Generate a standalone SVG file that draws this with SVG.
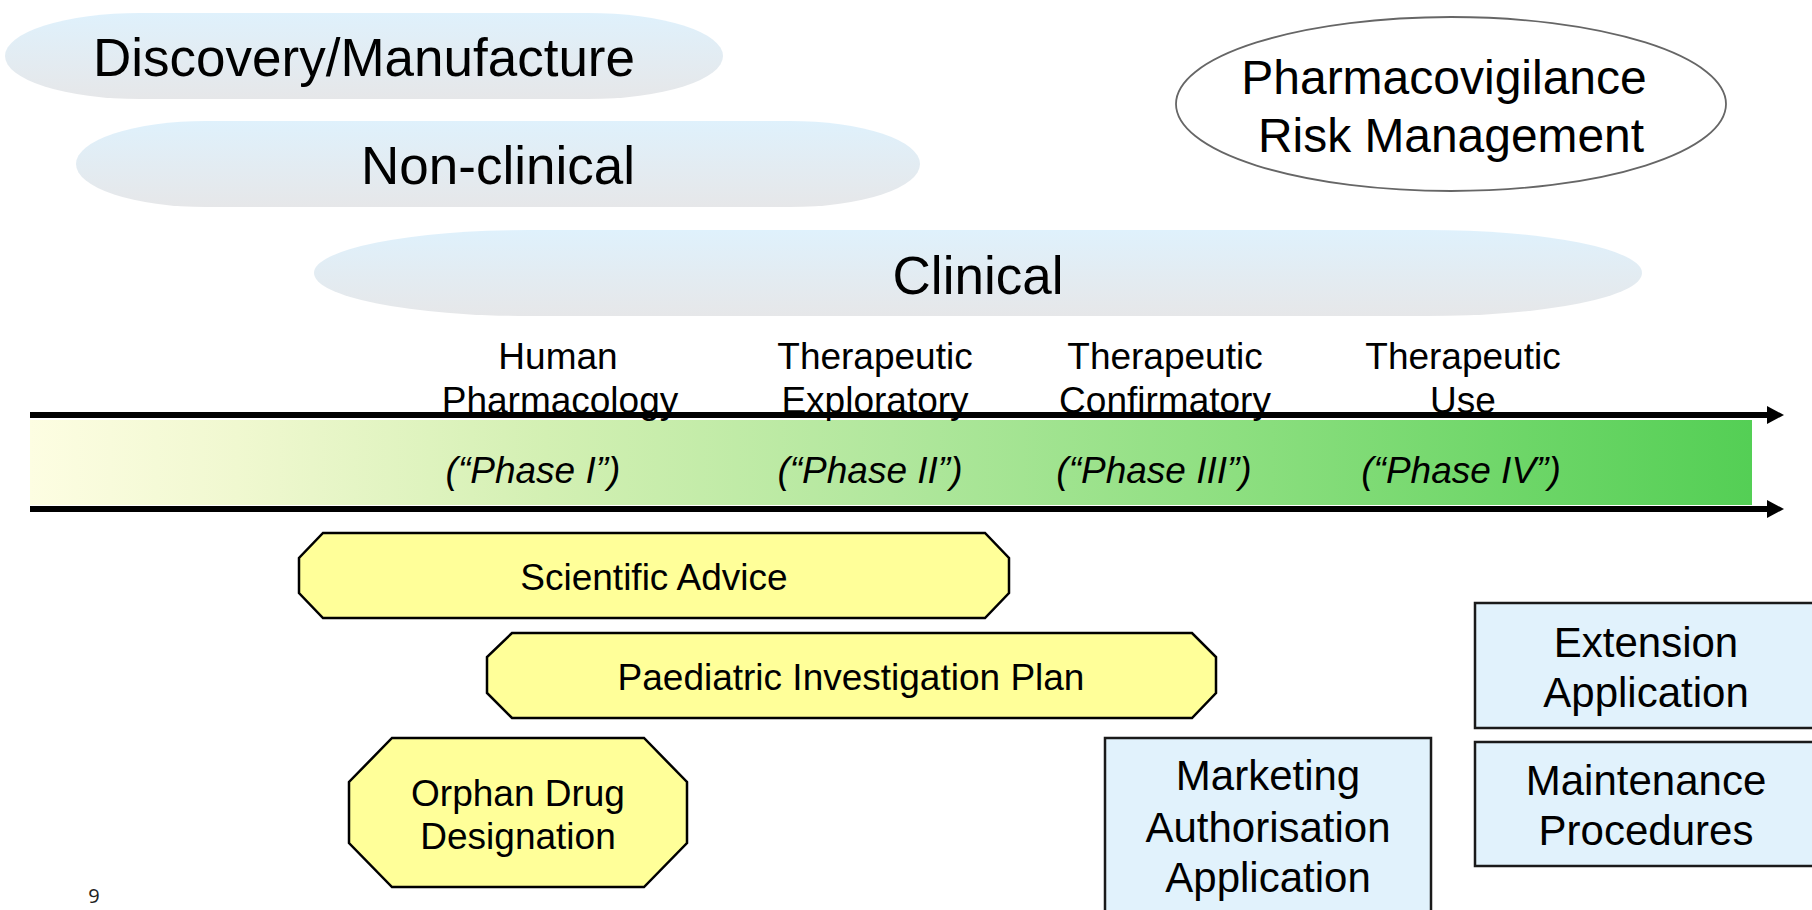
<svg xmlns="http://www.w3.org/2000/svg" width="1812" height="910" viewBox="0 0 1812 910">
<defs>
<linearGradient id="pill" x1="0" y1="0" x2="0" y2="1">
<stop offset="0" stop-color="#dff1fc"/>
<stop offset="1" stop-color="#e6e7e9"/>
</linearGradient>
<linearGradient id="band" x1="0" y1="0" x2="1" y2="0">
<stop offset="0" stop-color="#fdfde2"/>
<stop offset="0.12" stop-color="#f0f8d0"/>
<stop offset="0.3" stop-color="#d3f0b3"/>
<stop offset="0.5" stop-color="#b1e79d"/>
<stop offset="0.7" stop-color="#8ddf80"/>
<stop offset="1" stop-color="#54cf55"/>
</linearGradient>
<marker id="arr" markerWidth="18" markerHeight="20" refX="1" refY="10" orient="auto" markerUnits="userSpaceOnUse">
<path d="M1,1 L18,10 L1,19 Z" fill="#000"/>
</marker>
<style>
text{font-family:"Liberation Sans",Arial,sans-serif;fill:#000;text-anchor:middle}
.big{font-size:53px}
.pv{font-size:48px}
.lab{font-size:37px}
.ph{font-size:37px;font-style:italic}
.box{font-size:42px}
.yel{fill:#ffff99;stroke:#000;stroke-width:2.5}
.blu{fill:#e1f2fc;stroke:#1a1a1a;stroke-width:2.5}
.conn{stroke:#000;stroke-width:6;fill:none}
</style>
</defs>
<rect width="1812" height="910" fill="#fff"/>

<g id="discovery">
<rect x="5" y="13" width="718" height="86" rx="135" ry="43" fill="url(#pill)"/>
<text class="big" x="364" y="76">Discovery/Manufacture</text>
</g>
<g id="nonclinical">
<rect x="76" y="121" width="844" height="86" rx="130" ry="43" fill="url(#pill)"/>
<text class="big" x="498" y="184">Non-clinical</text>
</g>
<g id="clinical">
<rect x="314" y="230" width="1328" height="86" rx="215" ry="43" fill="url(#pill)"/>
<text class="big" x="978" y="294">Clinical</text>
</g>
<g id="pharmacovigilance">
<ellipse cx="1451" cy="104" rx="275" ry="87" fill="#fff" stroke="#666" stroke-width="1.8"/>
<text class="pv" x="1444" y="94">Pharmacovigilance</text>
<text class="pv" x="1451" y="152" textLength="386" lengthAdjust="spacingAndGlyphs">Risk Management</text>
</g>

<g id="band">
<rect x="30" y="420" width="1722" height="85" fill="url(#band)"/>
</g>
<g id="connectors">
<line class="conn" x1="30" y1="415" x2="1767" y2="415" marker-end="url(#arr)"/>
<line class="conn" x1="30" y1="509" x2="1767" y2="509" marker-end="url(#arr)"/>
</g>

<g id="phase1">
<text class="lab" x="558" y="369">Human</text>
<text class="lab" x="560" y="413">Pharmacology</text>
<text class="ph" x="533" y="483">(“Phase I”)</text>
</g>
<g id="phase2">
<text class="lab" x="875" y="369">Therapeutic</text>
<text class="lab" x="875" y="413">Exploratory</text>
<text class="ph" x="870" y="483">(“Phase II”)</text>
</g>
<g id="phase3">
<text class="lab" x="1165" y="369">Therapeutic</text>
<text class="lab" x="1165" y="413">Confirmatory</text>
<text class="ph" x="1154" y="483">(“Phase III”)</text>
</g>
<g id="phase4">
<text class="lab" x="1463" y="369">Therapeutic</text>
<text class="lab" x="1463" y="413">Use</text>
<text class="ph" x="1461" y="483">(“Phase IV”)</text>
</g>

<g id="scientific-advice">
<polygon class="yel" points="323,533 985,533 1009,558 1009,593 985,618 323,618 299,593 299,558"/>
<text class="lab" x="654" y="590">Scientific Advice</text>
</g>
<g id="pip">
<polygon class="yel" points="512,633 1192,633 1216,657 1216,693 1192,718 512,718 487,693 487,657"/>
<text class="lab" x="851" y="690">Paediatric Investigation Plan</text>
</g>
<g id="orphan">
<polygon class="yel" points="392,738 644,738 687,782 687,843 644,887 392,887 349,843 349,782"/>
<text class="lab" x="518" y="806">Orphan Drug</text>
<text class="lab" x="518" y="849">Designation</text>
</g>

<g id="maa">
<rect class="blu" x="1105" y="738" width="326" height="190"/>
<text class="box" x="1268" y="790">Marketing</text>
<text class="box" x="1268" y="842">Authorisation</text>
<text class="box" x="1268" y="892">Application</text>
</g>
<g id="extension">
<rect class="blu" x="1475" y="603" width="343" height="125"/>
<text class="box" x="1646" y="657">Extension</text>
<text class="box" x="1646" y="707">Application</text>
</g>
<g id="maintenance">
<rect class="blu" x="1475" y="742" width="343" height="124"/>
<text class="box" x="1646" y="795">Maintenance</text>
<text class="box" x="1646" y="845">Procedures</text>
</g>

<text x="94" y="903" style="font-size:20px;font-family:'Open Sans','Liberation Sans',sans-serif;fill:#222">9</text>
</svg>
